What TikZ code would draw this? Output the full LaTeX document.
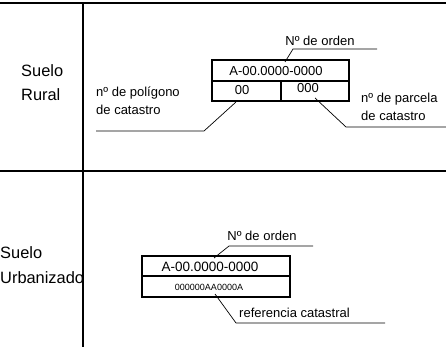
\documentclass[tikz,border=0pt]{standalone}
\usepackage{fontspec}
\setmainfont{Liberation Sans}
\begin{document}
\begin{tikzpicture}[x=1pt,y=-1pt,
    marco/.style={line width=1.1pt},
    caja/.style={line width=1.9pt},
    guia/.style={line width=0.7pt},
    txt/.style={font=\fontsize{13}{18}\selectfont,inner sep=0pt,align=left},
    codigo/.style={font=\fontsize{13.5}{16}\selectfont,inner sep=0pt},
    titulo/.style={font=\fontsize{16.4}{24.5}\selectfont,inner sep=0pt,align=left}]
    \useasboundingbox (0,0) rectangle (446,347);
    \clip (0,0) rectangle (446,347);
    \draw[marco] (0,3)--(446,3);
    \draw[marco] (0,171)--(446,171);
    \draw[marco] (83,3)--(83,347);

    \node[titulo,anchor=west] (rural) at (21,82.5) {Suelo\\Rural};
    \node[titulo,anchor=west] (urbano) at (0,265) {Suelo\\Urbanizado};

    \draw[caja] (212,60) rectangle (349,101);
    \draw[caja] (212,81)--(349,81) (281,81)--(281,101);
    \node[txt] (rurOrden) at (276,71) {A-00.0000-0000};
    \node[txt] (rurPol) at (242,90) {00};
    \node[txt] (rurPar) at (308,88) {000};
    \node[txt] (rurOrdenTxt) at (320,41) {Nº de orden};
    \node[txt,anchor=west] (rurPolTxt) at (96,101) {nº de polígono\\ de catastro};
    \node[txt,anchor=west] (rurParTxt) at (361,107) {nº de parcela\\de catastro};

    \coordinate (c1) at (285,62);
    \coordinate (c2) at (293,49);
    \coordinate (c3) at (377,49);
    \draw[guia] (c1)--(c2)--(c3);
    \coordinate (p1) at (236,102);
    \coordinate (p2) at (204,131);
    \coordinate (p3) at (96,131);
    \draw[guia] (p1)--(p2)--(p3);
    \coordinate (q1) at (315,98);
    \coordinate (q2) at (346,127);
    \coordinate (q3) at (446,127);
    \draw[guia] (q1)--(q2)--(q3);

    \draw[caja] (142,256) rectangle (290,297);
    \draw[caja] (142,276)--(290,276);
    \node[codigo] (urbOrden) at (210,266.5) {A-00.0000-0000};
    \node[font=\fontsize{9}{10}\selectfont,inner sep=0pt] (urbRef) at (209,287) {000000AA0000A};
    \node[txt] (urbOrdenTxt) at (262,236) {Nº de orden};
    \node[txt,anchor=west] (urbRefTxt) at (239,313) {referencia catastral};

    \coordinate (u1) at (214,258);
    \coordinate (u2) at (229,246);
    \coordinate (u3) at (313,246);
    \draw[guia] (u1)--(u2)--(u3);
    \coordinate (r1) at (215,294);
    \coordinate (r2) at (236,323);
    \coordinate (r3) at (385,323);
    \draw[guia] (r1)--(r2)--(r3);
\end{tikzpicture}
\end{document}
